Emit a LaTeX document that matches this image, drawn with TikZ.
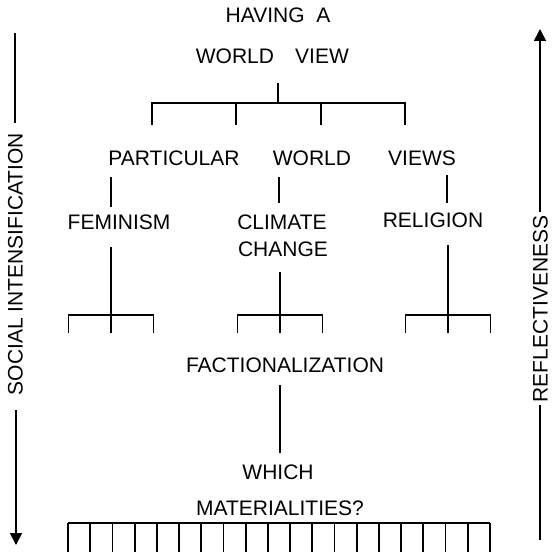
\documentclass[tikz,border=0pt]{standalone}
\usepackage{fontspec}
\setmainfont{Liberation Sans}
\usetikzlibrary{arrows.meta}
\begin{document}
\begin{tikzpicture}[x=1pt,y=-1pt,line width=1.8pt,
  lbl/.style={font=\fontsize{21}{25}\selectfont,inner sep=0pt,text height=15pt,text depth=0pt},
  tipdown/.style={-{Triangle[width=12pt,length=12pt]}}]
\useasboundingbox (0,0) rectangle (553,551);
% texts
\node[lbl] (having) at (278,15) {HAVING\ \ A};
\node[lbl] (world) at (235,56) {WORLD};
\node[lbl] (view) at (322,56) {VIEW};
\node[lbl] (partic) at (174,158) {PARTICULAR};
\node[lbl] (world2) at (312,158) {WORLD};
\node[lbl] (views) at (422,158) {VIEWS};
\node[lbl] (fem) at (119,222) {FEMINISM};
\node[lbl] (climate) at (282,222) {CLIMATE};
\node[lbl] (change) at (283,249) {CHANGE};
\node[lbl] (relig) at (433,220) {RELIGION};
\node[lbl] (fact) at (285,365) {FACTIONALIZATION};
\node[lbl] (which) at (278,472) {WHICH};
\node[lbl] (mat) at (280,508) {MATERIALITIES?};
\node[lbl,rotate=90] (social) at (15,264) {SOCIAL INTENSIFICATION};
\node[lbl,rotate=90] (reflect) at (540,309) {REFLECTIVENESS};
% top bracket
\coordinate (ts) at (278,83); \coordinate (tj) at (278,103);
\coordinate (tl) at (152,103); \coordinate (tr) at (405,103);
\coordinate (tlb) at (152,125); \coordinate (trb) at (405,125);
\coordinate (tm1) at (236,103); \coordinate (tm1b) at (236,125);
\coordinate (tm2) at (321,103); \coordinate (tm2b) at (321,125);
\draw (ts) -- (tj);
\draw (tlb) -- (tl) -- (tr) -- (trb);
\draw (tm1) -- (tm1b);
\draw (tm2) -- (tm2b);
% stems under particular world views
\coordinate (s1a) at (111,177); \coordinate (s1b) at (111,207);
\coordinate (s2a) at (279,177); \coordinate (s2b) at (279,203);
\coordinate (s3a) at (447,175); \coordinate (s3b) at (447,203);
\draw (s1a) -- (s1b); \draw (s2a) -- (s2b); \draw (s3a) -- (s3b);
% small brackets
\foreach \c/\top in {111/247,280/272,448/245}{
  \coordinate (u\c) at (\c,\top);
  \coordinate (j\c) at (\c,315);
  \coordinate (l\c) at ({\c-42.5},315);
  \coordinate (r\c) at ({\c+42.5},315);
  \coordinate (lb\c) at ({\c-42.5},333);
  \coordinate (rb\c) at ({\c+42.5},333);
  \coordinate (mb\c) at (\c,333);
  \draw (u\c) -- (j\c) -- (mb\c);
  \draw (lb\c) -- (l\c) -- (r\c) -- (rb\c);
}
% factionalization stem
\coordinate (fa) at (280,385); \coordinate (fb) at (280,453);
\draw (fa) -- (fb);
% bottom bracket
\coordinate (bl) at (68,523); \coordinate (br) at (490,523);
\draw (bl) -- (br);
\foreach \i in {0,...,19}{
  \coordinate (bt\i) at ({68+\i*422/19},523);
  \coordinate (bb\i) at ({68+\i*422/19},553);
  \draw (bt\i) -- (bb\i);
}
% side arrows
\coordinate (la) at (15,33); \coordinate (lb) at (15,123);
\coordinate (lc) at (16,410); \coordinate (ld) at (16,545);
\draw (la) -- (lb);
\draw[tipdown] (lc) -- (ld);
\coordinate (ra) at (540,540); \coordinate (rb) at (540,405);
\coordinate (rc) at (540,212); \coordinate (rd) at (540,29);
\draw (ra) -- (rb);
\draw[tipdown] (rc) -- (rd);
\end{tikzpicture}
\end{document}
